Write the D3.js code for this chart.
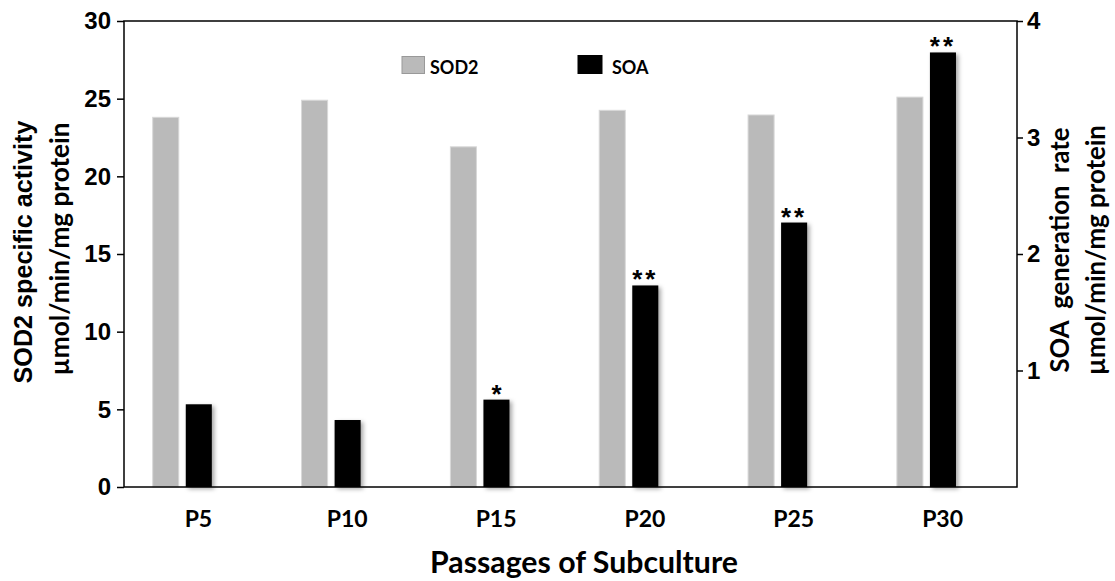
<!DOCTYPE html>
<html lang="en">
<head>
<meta charset="utf-8">
<title>SOD2 and SOA by passage</title>
<script src="https://d3js.org/d3.v7.min.js"></script>
<style>
    body { margin: 0; background: #fff; }
    #chart text { fill: #000; }
    .axis text { font-family: "Liberation Sans", Arial, sans-serif; font-weight: bold; font-size: 24px; }
    .axis line { stroke: #000; stroke-width: 1.5px; }
    .cal { font-family: Lato, "Open Sans", sans-serif; font-weight: bold; }
    .ari { font-family: "Liberation Sans", Arial, sans-serif; font-weight: bold; }
</style>
</head>
<body>
<div id="chart"></div>
<script>
    "use strict"

    // values
    var categories = ["P5", "P10", "P15", "P20", "P25", "P30"];
    var sod2Values = [23.8, 24.9, 21.9, 24.25, 23.95, 25.1];
    var soaValues = [0.71, 0.575, 0.75, 1.73, 2.27, 3.73];
    var soaMarks = ["", "", "*", "**", "**", "**"];
    var leftTicks = [0, 5, 10, 15, 20, 25, 30];
    var rightTicks = [1, 2, 3, 4];

    var W = 1115, H = 581;
    var plot = { left: 124, top: 21, right: 1017, bottom: 487 };

    var svg = d3.select("#chart").append("svg")
        .attr("width", W)
        .attr("height", H);

    var defs = svg.append("defs");
    defs.append("filter")
        .attr("id", "shadow")
        .attr("x", "-30%").attr("y", "-10%")
        .attr("width", "170%").attr("height", "130%")
        .append("feDropShadow")
        .attr("dx", 2.5).attr("dy", 2)
        .attr("stdDeviation", 2.2)
        .attr("flood-color", "#000")
        .attr("flood-opacity", 0.35);

    var x = d3.scaleBand()
        .domain(categories)
        .range([plot.left, plot.right]);

    var yL = d3.scaleLinear().domain([0, 30]).range([plot.bottom, plot.top]);
    var yR = d3.scaleLinear().domain([0, 4]).range([plot.bottom, plot.top]);

    var bw = x.bandwidth();
    var barW = bw * 0.175;

    var data = categories.map(function (c, i) {
        return { cat: c, sod2: sod2Values[i], soa: soaValues[i], mark: soaMarks[i] };
    });

    // SOD2 bars
    svg.append("g").selectAll("rect")
        .data(data)
        .enter()
        .append("rect")
        .attr("x", d => x(d.cat) + bw * 0.193)
        .attr("y", d => yL(d.sod2))
        .attr("width", barW)
        .attr("height", d => plot.bottom - yL(d.sod2))
        .attr("fill", "#bababa")
        .attr("stroke", "#d8d8d8")
        .attr("stroke-width", 1);

    // SOA bars
    svg.append("g").selectAll("rect")
        .data(data)
        .enter()
        .append("rect")
        .attr("x", d => x(d.cat) + bw * 0.415)
        .attr("y", d => yR(d.soa))
        .attr("width", barW)
        .attr("height", d => plot.bottom - yR(d.soa))
        .attr("fill", "#000")
        .attr("filter", "url(#shadow)");

    // significance stars
    svg.append("g").selectAll("text")
        .data(data.filter(d => d.mark))
        .enter()
        .append("text")
        .attr("class", "ari")
        .attr("x", d => x(d.cat) + bw * 0.415 + barW / 2)
        .attr("y", d => yR(d.soa) + 3)
        .attr("text-anchor", "middle")
        .attr("font-size", 26)
        .attr("letter-spacing", d => d.mark.length > 1 ? "3px" : "0px")
        .text(d => d.mark);

    // frame
    svg.append("rect")
        .attr("x", plot.left)
        .attr("y", plot.top)
        .attr("width", plot.right - plot.left)
        .attr("height", plot.bottom - plot.top)
        .attr("fill", "none")
        .attr("stroke", "#000")
        .attr("stroke-width", 1.5);

    svg.append("g")
        .attr("class", "axis")
        .attr("transform", "translate(" + plot.left + ",0)")
        .call(d3.axisLeft(yL).tickValues(leftTicks).tickSize(7).tickPadding(6))
        .call(g => g.select(".domain").remove());

    svg.append("g")
        .attr("class", "axis")
        .attr("transform", "translate(" + plot.right + ",0)")
        .call(d3.axisRight(yR).tickValues(rightTicks).tickFormat(d3.format("d")).tickSize(6).tickPadding(4))
        .call(g => g.select(".domain").remove());

    var xAxis = svg.append("g")
        .attr("class", "axis")
        .attr("transform", "translate(0," + plot.bottom + ")")
        .call(d3.axisBottom(x).tickSize(0).tickPadding(40))
        .call(g => g.select(".domain").remove());
    xAxis.selectAll("text")
        .attr("class", "cal")
        .style("font-family", "Lato, sans-serif")
        .style("font-size", "23px")
        .attr("dy", "0");

    function fit(t, w) {
        var len = t.node().getComputedTextLength();
        var fs = parseFloat(t.attr("font-size"));
        t.attr("font-size", fs * w / len);
        return t;
    }

    // axis titles
    fit(svg.append("text")
        .attr("class", "ari")
        .attr("font-size", 20)
        .attr("text-anchor", "middle")
        .attr("transform", "translate(32,252) rotate(-90)")
        .text("SOD2 specific activity"), 263);

    fit(svg.append("text")
        .attr("class", "cal")
        .attr("font-size", 20)
        .attr("text-anchor", "middle")
        .attr("transform", "translate(69,249) rotate(-90)")
        .text("\u00b5mol/min/mg protein"), 253);

    fit(svg.append("text")
        .attr("class", "cal")
        .attr("font-size", 20)
        .attr("text-anchor", "middle")
        .style("white-space", "pre")
        .attr("transform", "translate(1069,250) rotate(-90)")
        .text("SOA  generation  rate"), 245);

    fit(svg.append("text")
        .attr("class", "cal")
        .attr("font-size", 20)
        .attr("text-anchor", "middle")
        .attr("transform", "translate(1105,250) rotate(-90)")
        .text("\u00b5mol/min/mg protein"), 250);

    fit(svg.append("text")
        .attr("class", "cal")
        .attr("font-size", 26)
        .attr("text-anchor", "middle")
        .attr("x", 584)
        .attr("y", 573)
        .text("Passages of Subculture"), 308);

    // legend
    var legend = [
        { name: "SOD2", fill: "#bababa", stroke: "#999", x: 402 },
        { name: "SOA", fill: "#000", stroke: "#000", x: 578 }
    ];
    var lg = svg.append("g").selectAll("g")
        .data(legend)
        .enter()
        .append("g")
        .attr("transform", d => "translate(" + d.x + ",56)");
    lg.append("rect")
        .attr("width", d => d.name === "SOA" ? 24 : 22.5)
        .attr("height", d => d.name === "SOA" ? 18 : 17)
        .attr("y", d => d.name === "SOA" ? -0.5 : 0.5)
        .attr("fill", d => d.fill)
        .attr("stroke", d => d.stroke)
        .attr("stroke-width", 1);
    lg.append("text")
        .attr("class", "cal")
        .attr("font-size", 18)
        .attr("x", d => d.name === "SOA" ? 34 : 28)
        .attr("y", 17.5)
        .text(d => d.name);
</script>
</body>
</html>
